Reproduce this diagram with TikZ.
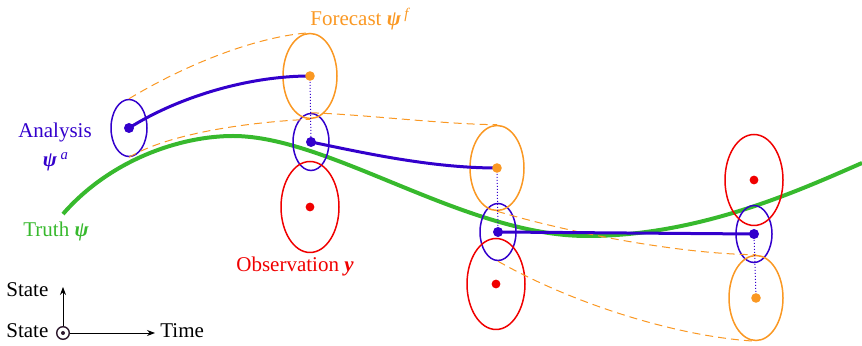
\documentclass[tikz,border=0pt]{standalone}
\usepackage{fontspec}
\setmainfont{Liberation Serif}
\usetikzlibrary{shapes.geometric, arrows.meta}
\definecolor{anablue}{RGB}{51,0,204}
\definecolor{fcorange}{RGB}{250,152,35}
\definecolor{obsred}{RGB}{240,0,0}
\definecolor{truthgreen}{RGB}{55,185,45}
\definecolor{axdark}{RGB}{45,25,45}
\newcommand{\bpsi}{\textbf{\textit{ψ}}}
\tikzstyle{anaell}=[ellipse, draw=anablue, line width=0.75pt, minimum width=18pt, minimum height=28.5pt, inner sep=0pt]
\tikzstyle{fcell}=[ellipse, draw=fcorange, line width=0.75pt, minimum width=27pt, minimum height=42.5pt, inner sep=0pt]
\tikzstyle{obsell}=[ellipse, draw=obsred, line width=0.75pt, minimum width=29pt, minimum height=45.5pt, inner sep=0pt]
\tikzstyle{adot}=[circle, fill=anablue, inner sep=0pt, minimum size=5pt]
\tikzstyle{fdot}=[circle, fill=fcorange, inner sep=0pt, minimum size=4.8pt]
\tikzstyle{odot}=[circle, fill=obsred, inner sep=0pt, minimum size=4.4pt]
\tikzstyle{spread}=[draw=fcorange, line width=0.5pt, dash pattern=on 4pt off 2.5pt]
\tikzstyle{traj}=[draw=anablue, line width=1.5pt]
\tikzstyle{upd}=[draw=anablue, line width=0.5pt, densely dotted]
\tikzstyle{lbl}=[font=\fontsize{10.5pt}{12pt}\selectfont, inner sep=0pt]

\begin{document}
\begin{tikzpicture}[x=0.5pt, y=-0.5pt]
    \useasboundingbox (0,0) rectangle (862,346);
    \coordinate (a1) at (129,128);
    \coordinate (a2) at (311,142);
    \coordinate (a3) at (498,232);
    \coordinate (a4) at (754,234);
    \coordinate (f1) at (310,76);
    \coordinate (f2) at (497,168);
    \coordinate (f3) at (756,298);
    \coordinate (o1) at (310,207);
    \coordinate (o2) at (496,284);
    \coordinate (o3) at (754,180);
    \coordinate (ax) at (63,333);
    \coordinate (t0) at (63,214);
    \coordinate (t1) at (233,136);
    \coordinate (t2) at (587,236);
    \coordinate (t3) at (862,163);
    \draw[truthgreen, line width=2pt] (t0) .. controls (110,160) and (180,136) .. (t1) .. controls (330,136) and (465,236) .. (t2) .. controls (700,236) and (800,190) .. (t3);
    \node[anaell] (ea1) at (a1) {};
    \node[anaell] (ea2) at (a2) {};
    \node[anaell] (ea3) at (a3) {};
    \node[anaell] (ea4) at (a4) {};
    \node[fcell] (ef1) at (f1) {};
    \node[fcell] (ef2) at (f2) {};
    \node[fcell] (ef3) at (f3) {};
    \node[obsell] (eo1) at (o1) {};
    \node[obsell] (eo2) at (o2) {};
    \node[obsell] (eo3) at (o3) {};
    \draw[spread] (ea1.north) .. controls (190,62) and (260,36) .. (ef1.north);
    \draw[spread] (ea1.south) .. controls (170,133) and (250,122) .. (ef1.south);
    \draw[spread] (ea2.north) .. controls (370,115) and (440,124) .. (ef2.north);
    \draw[spread] (ef2.south) .. controls (570,233) and (680,254) .. (ef3.north);
    \draw[spread] (ea3.south) .. controls (575,305) and (680,337) .. (ef3.south);
    \draw[traj] (a1) .. controls (180,96) and (250,76) .. (f1);
    \draw[traj] (a2) .. controls (360,152) and (430,168) .. (f2);
    \draw[traj] (a3) -- (a4);
    \draw[upd] (f1) -- (a2);
    \draw[upd] (f2) -- (a3);
    \draw[upd] (a4) -- (f3);
    \node[adot] (pa1) at (a1) {};
    \node[adot] (pa2) at (a2) {};
    \node[adot] (pa3) at (a3) {};
    \node[adot] (pa4) at (a4) {};
    \node[fdot] (pf1) at (f1) {};
    \node[fdot] (pf2) at (f2) {};
    \node[fdot] (pf3) at (f3) {};
    \node[odot] (po1) at (o1) {};
    \node[odot] (po2) at (o2) {};
    \node[odot] (po3) at (o3) {};
    \node[lbl, text=fcorange, anchor=base west] (lblfc) at (310,26) {Forecast \bpsi\,\textsuperscript{\textit{f}}};
    \node[lbl, text=anablue, anchor=base] (lblana) at (55,138) {Analysis};
    \node[lbl, text=anablue, anchor=base] (lblpsia) at (56,167) {\bpsi\,\textsuperscript{\textit{a}}};
    \node[lbl, text=truthgreen, anchor=base west] (lbltruth) at (23,237) {Truth \bpsi};
    \node[lbl, text=obsred, anchor=base west] (lblobs) at (236,272) {Observation \textbf{\textit{y}}};
    \node[circle, draw=axdark, line width=0.7pt, inner sep=0pt, minimum size=6.3pt] (orig) at (ax) {};
    \fill[axdark] (orig.center) circle (1pt);
    \coordinate (uptip) at (63,287);
    \coordinate (righttip) at (155,333);
    \draw[-{Stealth[length=4pt, width=3pt]}, line width=0.4pt] (orig.north) -- (uptip);
    \draw[-{Stealth[length=4pt, width=3pt]}, line width=0.4pt] (orig.east) -- (righttip);
    \node[lbl, anchor=base west] (lblstate) at (6,297) {State};
    \node[lbl, anchor=base west] (lblstate2) at (6,338) {State};
    \node[lbl, anchor=base west] (lbltime) at (160,338) {Time};
\end{tikzpicture}
\end{document}
